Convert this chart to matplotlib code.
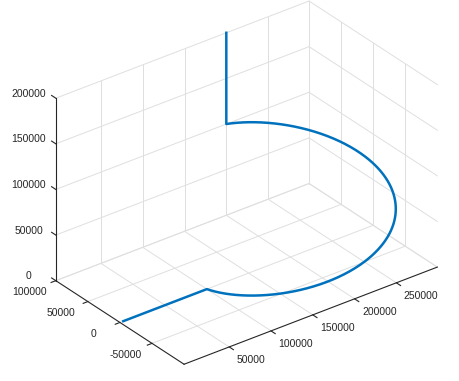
import numpy as np
import matplotlib
matplotlib.use("Agg")
import matplotlib.pyplot as plt
from mpl_toolkits.mplot3d import proj3d

plt.rcParams["font.family"] = ["Liberation Sans", "DejaVu Sans"]

# flight path: ground run along x, climbing 3/4 turn, then straight up
run_x = [0, 100000]
run_y = [0, 0]
run_z = [0, 0]
turn_cx = 200000
turn_cy = 0
turn_r = 100000
turn_deg = [180, 450]
turn_z = [0, 100000]
up_x = [200000, 200000]
up_y = [100000, 100000]
up_z = [100000, 200000]

xlim = (-4000, 299000)
ylim = (-100000, 100000)
zlim = (0, 200000)
xticks = [50000, 100000, 150000, 200000, 250000]
yticks = [-50000, 0, 50000, 100000]
zticks = [0, 50000, 100000, 150000, 200000]

W, H = 459, 381
blue = "#0072BD"
dark = "#262626"
gridc = "#dfdfdf"

ang = np.radians(np.linspace(turn_deg[0], turn_deg[1], 300))
tx_ = turn_cx + turn_r * np.cos(ang)
ty_ = turn_cy + turn_r * np.sin(ang)
tz_ = np.linspace(turn_z[0], turn_z[1], 300)
path_x = np.concatenate([run_x, tx_, up_x])
path_y = np.concatenate([run_y, ty_, up_y])
path_z = np.concatenate([run_z, tz_, up_z])

fig = plt.figure(figsize=(W / 100, H / 100), dpi=100)
ax = fig.add_axes([0, 0, 1, 1], projection="3d")
ax.set_proj_type("ortho")
ax.view_init(elev=30, azim=-127.5)
ax.set_xlim(xlim)
ax.set_ylim(ylim)
ax.set_zlim(zlim)
ax.set_box_aspect((xlim[1] - xlim[0], ylim[1] - ylim[0], zlim[1] - zlim[0]))
ax.set_axis_off()
ax.computed_zorder = False

x0, x1 = xlim
y0, y1 = ylim
z0, z1 = zlim

# grid on the three back planes
gl = dict(color=gridc, lw=0.7, zorder=1)
for x in xticks + [x1]:
    ax.plot([x, x], [y0, y1], [z0, z0], **gl)
for x in xticks:
    ax.plot([x, x], [y1, y1], [z0, z1], **gl)
for y in yticks:
    ax.plot([x0, x1], [y, y], [z0, z0], **gl)
    ax.plot([x1, x1], [y, y], [z0, z1], **gl)
for z in zticks:
    ax.plot([x0, x1], [y1, y1], [z, z], **gl)
    ax.plot([x1, x1], [y0, y1], [z, z], **gl)

# axis lines + tick marks
al = dict(color=dark, lw=0.8, zorder=2)
ax.plot([x0, x1], [y0, y0], [z0, z0], **al)
ax.plot([x0, x0], [y0, y1], [z0, z0], **al)
ax.plot([x0, x0], [y1, y1], [z0, z1], **al)
tkx = 0.0185 * (x1 - x0)
tky = 0.0328 * (y1 - y0)
for x in xticks:
    ax.plot([x, x], [y0, y0 - tky], [z0, z0], **al)
for y in yticks:
    ax.plot([x0, x0 - tkx], [y, y], [z0, z0], **al)
for z in zticks:
    ax.plot([x0, x0], [y1, y1 + tky], [z, z], **al)

ax.plot(path_x, path_y, path_z, color=blue, lw=1.8, zorder=3)


def to_px(xs, ys, zs):
    u, v, _ = proj3d.proj_transform(np.asarray(xs, float), np.asarray(ys, float),
                                    np.asarray(zs, float), ax.get_proj())
    return ax.transData.transform(np.column_stack([u, v]))


# place the box where it sits in the reference
corners = np.array([[x0, y0, z0], [x1, y0, z0], [x0, y1, z1], [x0, y1, z0]])
target = np.array([[184, 363.5], [437, 269], [56, 97], [56, 280.7]], float)
target[:, 1] = H - target[:, 1]
for _ in range(3):
    fig.canvas.draw()
    p = to_px(*corners.T)
    bb = ax.get_position()
    c = np.array([(bb.x0 + bb.x1) / 2 * W, (bb.y0 + bb.y1) / 2 * H])
    side = bb.width * W
    pm = p.mean(0)
    tm = target.mean(0)
    s = ((p - pm) * (target - tm)).sum() / ((p - pm) ** 2).sum()
    side *= s
    nc = tm + s * (c - pm)
    ax.set_position([(nc[0] - side / 2) / W, (nc[1] - side / 2) / H, side / W, side / H])
fig.canvas.draw()


def labels(xs, ys, zs, vals, dx, dy, ha):
    p = to_px(xs, ys, zs)
    for (u, v), t in zip(p, vals):
        fig.text((u + dx) / W, (v - dy) / H, str(t), ha=ha, va="center",
                 fontsize=7.5, color=dark)


labels(xticks, [y0] * len(xticks), [z0] * len(xticks), xticks, 7.5, 13.5, "left")
labels([x0] * len(yticks), yticks, [z0] * len(yticks), yticks, -26.5, 11.5, "center")
labels([x0] * len(zticks), [y1] * len(zticks), zticks, zticks, -27.3, -4.5, "center")

fig.savefig("out.png", dpi=100)
